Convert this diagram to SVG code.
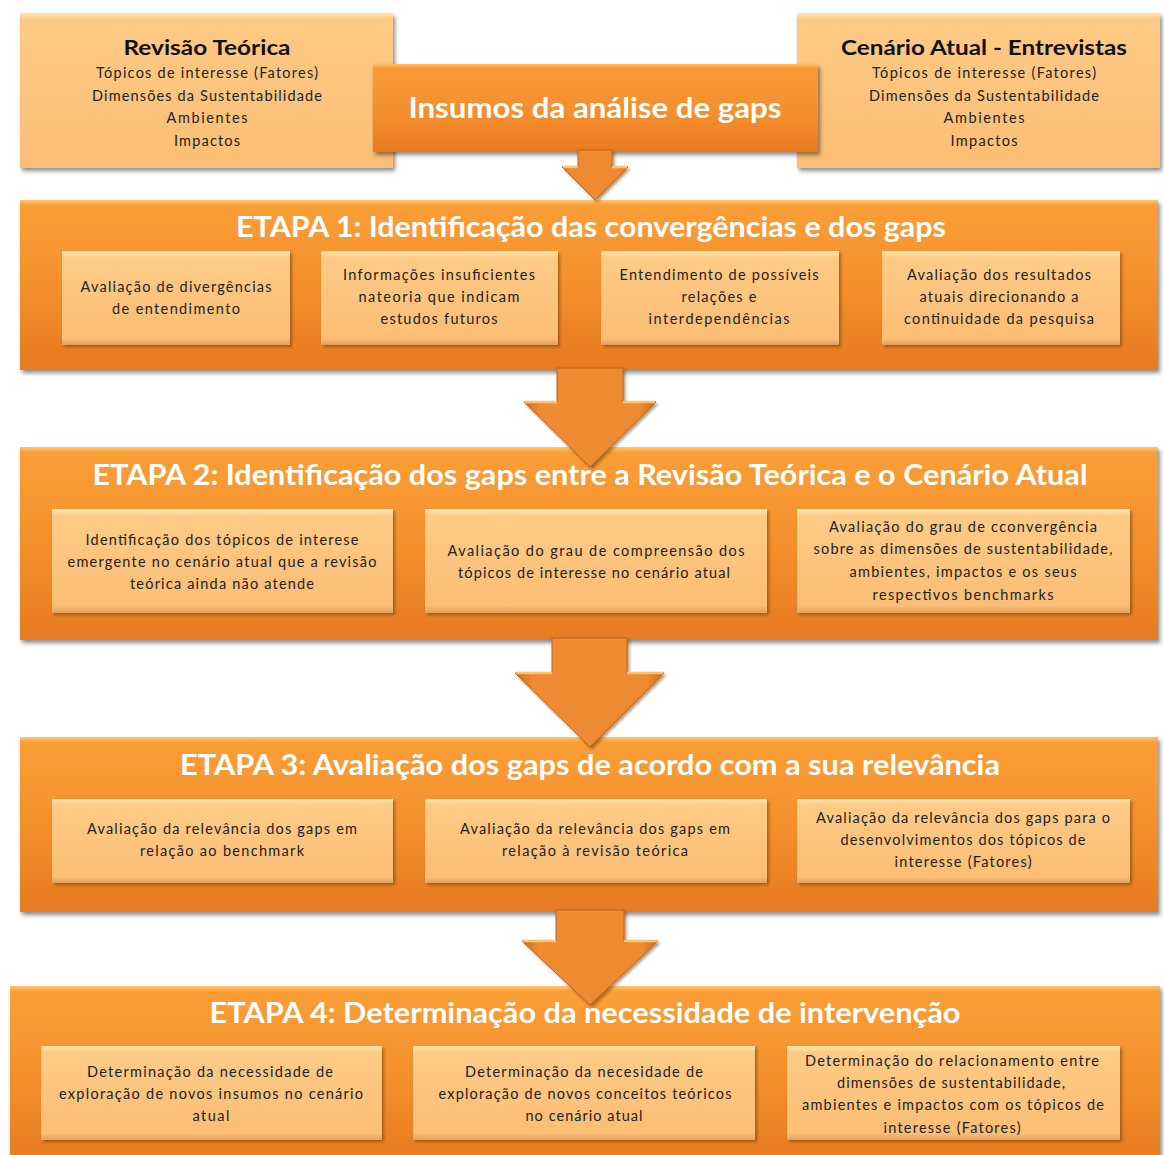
<svg xmlns="http://www.w3.org/2000/svg" width="1164" height="1155" viewBox="0 0 1164 1155">
<defs>
<linearGradient id="gEtapa" x1="0" y1="0" x2="0" y2="1">
<stop offset="0" stop-color="#FDC671"/>
<stop offset="0.03" stop-color="#FA9E37"/>
<stop offset="0.5" stop-color="#F4902C"/>
<stop offset="1" stop-color="#E67A21"/>
</linearGradient>
<linearGradient id="gInner" x1="0" y1="0" x2="0" y2="1">
<stop offset="0" stop-color="#FEE6B2"/>
<stop offset="0.07" stop-color="#FDCB86"/>
<stop offset="0.5" stop-color="#FDC47D"/>
<stop offset="0.93" stop-color="#FBBE75"/>
<stop offset="1" stop-color="#E3A05C"/>
</linearGradient>
<linearGradient id="gTop" x1="0" y1="0" x2="0" y2="1">
<stop offset="0" stop-color="#FEE4AE"/>
<stop offset="0.04" stop-color="#FDCA84"/>
<stop offset="0.5" stop-color="#FDC47D"/>
<stop offset="1" stop-color="#FBBE74"/>
</linearGradient>
<linearGradient id="gIns" x1="0" y1="0" x2="0" y2="1">
<stop offset="0" stop-color="#FDC06B"/>
<stop offset="0.05" stop-color="#F99A36"/>
<stop offset="0.6" stop-color="#F38D2D"/>
<stop offset="1" stop-color="#E97A22"/>
</linearGradient>
<linearGradient id="gArrow" x1="0" y1="0" x2="1" y2="0">
<stop offset="0" stop-color="#D06E1F"/>
<stop offset="0.12" stop-color="#EE8A30"/>
<stop offset="0.88" stop-color="#EE8A30"/>
<stop offset="1" stop-color="#D06E1F"/>
</linearGradient>
<filter id="sh" x="-5%" y="-10%" width="110%" height="125%">
<feDropShadow dx="2" dy="3" stdDeviation="2" flood-color="#000" flood-opacity="0.45"/>
</filter>
<filter id="shs" x="-5%" y="-10%" width="115%" height="130%">
<feDropShadow dx="2" dy="2" stdDeviation="1.5" flood-color="#5a3000" flood-opacity="0.5"/>
</filter>
</defs>
<style>
.etapa{fill:url(#gEtapa);filter:url(#sh)}
.inner{fill:url(#gInner);filter:url(#shs)}
.top{fill:url(#gTop);filter:url(#sh)}
.ins{fill:url(#gIns);filter:url(#sh)}
.arrow{fill:url(#gArrow);stroke:#C0641C;stroke-width:1;filter:url(#shs)}
.wing{stroke:#FCC46E;stroke-width:2.5}
.t{font-family:Lato,"Open Sans",sans-serif;font-size:28px;font-weight:bold;fill:#fff;text-anchor:middle}
.h{font-family:Lato,"Open Sans",sans-serif;font-size:21px;font-weight:bold;fill:#111;text-anchor:middle}
.s{font-family:Lato,"Open Sans",sans-serif;font-size:14.5px;fill:#222;text-anchor:middle}
</style>
<rect width="1164" height="1155" fill="#fff"/>

<g id="revisao-teorica">
<rect class="top" x="20" y="13" width="373" height="155"/>
<text class="h" x="207" y="55" textLength="167" lengthAdjust="spacingAndGlyphs">Revisão Teórica</text>
<text class="s" x="207" y="78" textLength="222" lengthAdjust="spacing">Tópicos de interesse (Fatores)</text>
<text class="s" x="207" y="101" textLength="230" lengthAdjust="spacing">Dimensões da Sustentabilidade</text>
<text class="s" x="207" y="123" textLength="81" lengthAdjust="spacing">Ambientes</text>
<text class="s" x="207" y="146" textLength="66" lengthAdjust="spacing">Impactos</text>
</g>

<g id="cenario-atual">
<rect class="top" x="797" y="13" width="363" height="155"/>
<text class="h" x="984" y="55" textLength="286" lengthAdjust="spacingAndGlyphs">Cenário Atual - Entrevistas</text>
<text class="s" x="984" y="78" textLength="224" lengthAdjust="spacing">Tópicos de interesse (Fatores)</text>
<text class="s" x="984" y="101" textLength="230" lengthAdjust="spacing">Dimensões da Sustentabilidade</text>
<text class="s" x="984" y="123" textLength="81" lengthAdjust="spacing">Ambientes</text>
<text class="s" x="984" y="146" textLength="67" lengthAdjust="spacing">Impactos</text>
</g>

<g id="insumos">
<rect class="ins" x="373" y="64" width="445" height="88"/>
<text class="t" x="595" y="118" textLength="373" lengthAdjust="spacingAndGlyphs">Insumos da análise de gaps</text>
</g>

<g id="etapa1">
<rect class="etapa" x="20" y="200" width="1138" height="170"/>
<text class="t" x="591" y="237" textLength="710" lengthAdjust="spacingAndGlyphs">ETAPA 1: Identificação das convergências e dos gaps</text>
<g id="e1-a">
<rect class="inner" x="62" y="251" width="228" height="94"/>
<text class="s" x="176" y="292" textLength="191" lengthAdjust="spacing">Avaliação de divergências</text>
<text class="s" x="176" y="314" textLength="128" lengthAdjust="spacing">de entendimento</text>
</g>
<g id="e1-b">
<rect class="inner" x="321" y="251" width="237" height="94"/>
<text class="s" x="439" y="280" textLength="192" lengthAdjust="spacing">Informações insuficientes</text>
<text class="s" x="439" y="302" textLength="161" lengthAdjust="spacing">nateoria que indicam</text>
<text class="s" x="439" y="324" textLength="117" lengthAdjust="spacing">estudos futuros</text>
</g>
<g id="e1-c">
<rect class="inner" x="601" y="251" width="238" height="94"/>
<text class="s" x="719" y="280" textLength="199" lengthAdjust="spacing">Entendimento de possíveis</text>
<text class="s" x="719" y="302" textLength="75" lengthAdjust="spacing">relações e</text>
<text class="s" x="719" y="324" textLength="141" lengthAdjust="spacing">interdependências</text>
</g>
<g id="e1-d">
<rect class="inner" x="882" y="251" width="238" height="94"/>
<text class="s" x="999" y="280" textLength="184" lengthAdjust="spacing">Avaliação dos resultados</text>
<text class="s" x="999" y="302" textLength="159" lengthAdjust="spacing">atuais direcionando a</text>
<text class="s" x="999" y="324" textLength="190" lengthAdjust="spacing">continuidade da pesquisa</text>
</g>
</g>

<g id="etapa2">
<rect class="etapa" x="20" y="447" width="1138" height="193"/>
<text class="t" x="590" y="485" textLength="995" lengthAdjust="spacingAndGlyphs">ETAPA 2: Identificação dos gaps entre a Revisão Teórica e o Cenário Atual</text>
<g id="e2-a">
<rect class="inner" x="52" y="509" width="341" height="104"/>
<text class="s" x="222" y="545" textLength="273" lengthAdjust="spacing">Identificação dos tópicos de interese</text>
<text class="s" x="222" y="567" textLength="309" lengthAdjust="spacing">emergente no cenário atual que a revisão</text>
<text class="s" x="222" y="589" textLength="184" lengthAdjust="spacing">teórica ainda não atende</text>
</g>
<g id="e2-b">
<rect class="inner" x="425" y="509" width="342" height="104"/>
<text class="s" x="596" y="556" textLength="297" lengthAdjust="spacing">Avaliação do grau de compreensão  dos</text>
<text class="s" x="594" y="578" textLength="272" lengthAdjust="spacing">tópicos de interesse no cenário atual</text>
</g>
<g id="e2-c">
<rect class="inner" x="797" y="509" width="333" height="104"/>
<text class="s" x="963" y="532" textLength="268" lengthAdjust="spacing">Avaliação do grau de cconvergência</text>
<text class="s" x="963" y="554" textLength="299" lengthAdjust="spacing">sobre as dimensões de sustentabilidade,</text>
<text class="s" x="963" y="577" textLength="227" lengthAdjust="spacing">ambientes, impactos e os seus</text>
<text class="s" x="963" y="600" textLength="181" lengthAdjust="spacing">respectivos benchmarks</text>
</g>
</g>

<g id="etapa3">
<rect class="etapa" x="20" y="737" width="1138" height="175"/>
<text class="t" x="590" y="775" textLength="820" lengthAdjust="spacingAndGlyphs">ETAPA 3: Avaliação dos gaps de acordo com a sua relevância</text>
<g id="e3-a">
<rect class="inner" x="52" y="799" width="341" height="84"/>
<text class="s" x="222" y="834" textLength="270" lengthAdjust="spacing">Avaliação da relevância dos gaps em</text>
<text class="s" x="222" y="856" textLength="164" lengthAdjust="spacing">relação ao benchmark</text>
</g>
<g id="e3-b">
<rect class="inner" x="425" y="799" width="342" height="84"/>
<text class="s" x="595" y="834" textLength="270" lengthAdjust="spacing">Avaliação da relevância dos gaps em</text>
<text class="s" x="595" y="856" textLength="186" lengthAdjust="spacing">relação  à revisão teórica</text>
</g>
<g id="e3-c">
<rect class="inner" x="797" y="799" width="333" height="84"/>
<text class="s" x="963" y="823" textLength="294" lengthAdjust="spacing">Avaliação da relevância dos gaps para o</text>
<text class="s" x="963" y="845" textLength="245" lengthAdjust="spacing">desenvolvimentos dos tópicos de</text>
<text class="s" x="963" y="867" textLength="137" lengthAdjust="spacing">interesse (Fatores)</text>
</g>
</g>

<g id="etapa4">
<rect class="etapa" x="10" y="986" width="1150" height="180"/>
<text class="t" x="585" y="1023" textLength="751" lengthAdjust="spacingAndGlyphs">ETAPA 4: Determinação da necessidade de intervenção</text>
<g id="e4-a">
<rect class="inner" x="41" y="1046" width="341" height="94"/>
<text class="s" x="210" y="1077" textLength="246" lengthAdjust="spacing">Determinação da necessidade de</text>
<text class="s" x="211" y="1099" textLength="304" lengthAdjust="spacing">exploração de novos insumos no cenário</text>
<text class="s" x="211" y="1121" textLength="37" lengthAdjust="spacing">atual</text>
</g>
<g id="e4-b">
<rect class="inner" x="413" y="1046" width="342" height="94"/>
<text class="s" x="584" y="1077" textLength="238" lengthAdjust="spacing">Determinação da necesidade de</text>
<text class="s" x="585" y="1099" textLength="293" lengthAdjust="spacing">exploração de novos conceitos teóricos</text>
<text class="s" x="584" y="1121" textLength="117" lengthAdjust="spacing">no cenário atual</text>
</g>
<g id="e4-c">
<rect class="inner" x="787" y="1046" width="333" height="94"/>
<text class="s" x="952" y="1066" textLength="294" lengthAdjust="spacing">Determinação do relacionamento entre</text>
<text class="s" x="951" y="1088" textLength="228" lengthAdjust="spacing">dimensões de sustentabilidade,</text>
<text class="s" x="953" y="1110" textLength="302" lengthAdjust="spacing">ambientes e impactos com os tópicos de</text>
<text class="s" x="952" y="1133" textLength="137" lengthAdjust="spacing">interesse (Fatores)</text>
</g>
</g>

<g id="connectors">
<path class="arrow" d="M578,150 H612 V167 H628 L595,200 L562,167 H578 Z"/>
<path class="wing" d="M563,167 H578 M612,167 H627"/>
<path class="arrow" d="M557,368 H623 V402 H656 L590,467 L524,402 H557 Z"/>
<path class="wing" d="M525,402 H557 M623,402 H655"/>
<path class="arrow" d="M552,638 H627 V673 H664 L590,747 L515,673 H552 Z"/>
<path class="wing" d="M516,673 H552 M627,673 H663"/>
<path class="arrow" d="M556,910 H624 V941 H658 L590,1005 L522,941 H556 Z"/>
<path class="wing" d="M523,941 H556 M624,941 H657"/>
</g>
</svg>
